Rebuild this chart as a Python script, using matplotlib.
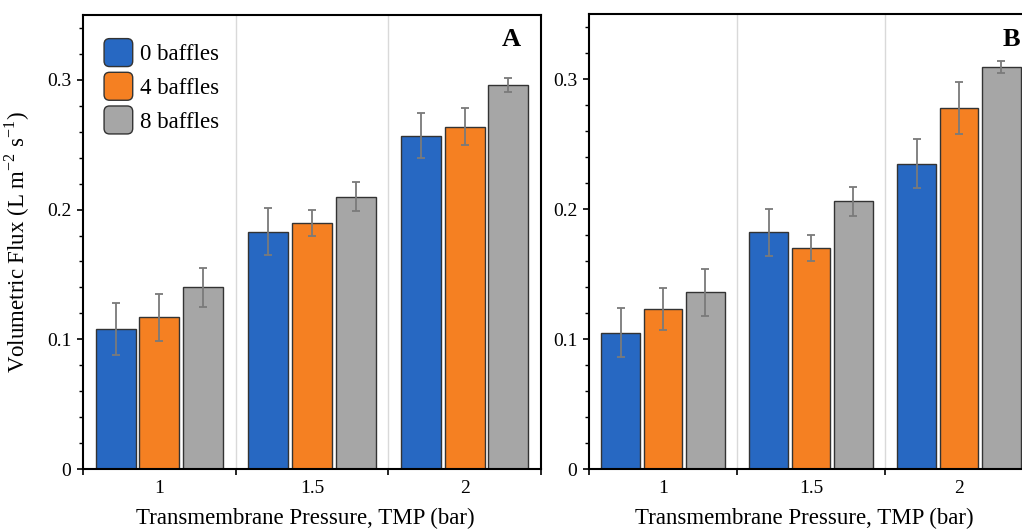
import numpy as np
import matplotlib
matplotlib.use('Agg')
import matplotlib.pyplot as plt
import matplotlib.patches as mpatches
from matplotlib.legend_handler import HandlerPatch
from matplotlib.ticker import MultipleLocator, FixedLocator

plt.rcParams['font.family'] = ['Liberation Serif', 'DejaVu Serif']
plt.rcParams['mathtext.fontset'] = 'custom'
plt.rcParams['mathtext.rm'] = 'Liberation Serif'

# data
tmp_labels = ['1', '1.5', '2']
series = ['0 baffles', '4 baffles', '8 baffles']
colors = ['#2768c2', '#f58022', '#a6a6a6']

a_flux_0 = [0.108, 0.183, 0.257]
a_flux_4 = [0.117, 0.190, 0.264]
a_flux_8 = [0.140, 0.210, 0.296]
a_err_0 = [0.020, 0.018, 0.0175]
a_err_4 = [0.018, 0.010, 0.014]
a_err_8 = [0.015, 0.011, 0.0055]

b_flux_0 = [0.105, 0.182, 0.235]
b_flux_4 = [0.123, 0.170, 0.278]
b_flux_8 = [0.136, 0.206, 0.309]
b_err_0 = [0.019, 0.018, 0.019]
b_err_4 = [0.016, 0.010, 0.020]
b_err_8 = [0.018, 0.011, 0.0045]

W, H = 1022, 532
fig = plt.figure(figsize=(W / 100, H / 100), dpi=100)

# axes boxes from pixel positions in the reference
axA = fig.add_axes([83 / W, (H - 469) / H, 458 / W, 454 / H])
axB = fig.add_axes([589 / W, (H - 469) / H, 444 / W, 455 / H])


def rounded_patch(legend, orig_handle, xdescent, ydescent, width, height, fontsize):
    return mpatches.FancyBboxPatch((-xdescent, -ydescent), width, height,
                                   boxstyle='round,pad=0,rounding_size=4')


def draw_panel(ax, fluxes, errs, letter, letter_x):
    x = np.arange(len(tmp_labels))
    offsets = [-0.287, 0.0, 0.287]
    for vals, err, off, col, name in zip(fluxes, errs, offsets, colors, series):
        ax.bar(x + off, vals, width=0.262, color=col, edgecolor='#333333',
               linewidth=1.0, label=name, zorder=2,
               yerr=err, error_kw=dict(ecolor='#7a7a7a', elinewidth=1.3,
                                       capsize=2.8, capthick=1.3, zorder=3))
    for b in [0.5, 1.5]:
        ax.axvline(b, color='#d9d9d9', lw=1.0, zorder=0)

    ax.set_xlim(-0.5, 2.5)
    ax.set_ylim(0, 0.35)
    ax.set_xticks(x)
    ax.set_xticklabels(tmp_labels)
    ax.xaxis.set_minor_locator(FixedLocator([-0.5, 0.5, 1.5, 2.5]))
    ax.tick_params(axis='x', which='major', length=0, pad=8, labelsize=14)
    ax.tick_params(axis='x', which='minor', length=4.5, width=1.2, direction='out')

    ax.yaxis.set_minor_locator(MultipleLocator(0.02))
    ax.set_yticks([0, 0.1, 0.2, 0.3])
    ax.set_yticklabels(['0', '0.1', '0.2', '0.3'])
    ax.tick_params(axis='y', which='major', length=4.5, width=1.2, pad=4, labelsize=14)
    ax.tick_params(axis='y', which='minor', length=3, width=1.0)

    for s in ax.spines.values():
        s.set_linewidth(1.5)
        s.set_color('black')

    ax.set_xlabel('Transmembrane Pressure, TMP (bar)', fontsize=16.5)
    ax.xaxis.set_label_coords(0.486, -0.085)
    ax.text(letter_x, 0.945, letter, transform=ax.transAxes, fontsize=19,
            fontweight='bold', ha='left', va='center')


draw_panel(axA, [a_flux_0, a_flux_4, a_flux_8], [a_err_0, a_err_4, a_err_8], 'A', 0.915)
draw_panel(axB, [b_flux_0, b_flux_4, b_flux_8], [b_err_0, b_err_4, b_err_8], 'B', 0.932)

axA.set_ylabel(r'Volumetric Flux (L m$^{\mathregular{-2}}$ s$^{\mathregular{-1}}$)', fontsize=16.5)
axA.yaxis.set_label_coords(-0.112, 0.5)

handles = [mpatches.Patch(facecolor=c, edgecolor='#333333', linewidth=1.0) for c in colors]
axA.legend(handles, series, loc='upper left', bbox_to_anchor=(0.046, 0.948),
           frameon=False, fontsize=16.5, borderpad=0, borderaxespad=0,
           handlelength=1.25, handleheight=1.5, handletextpad=0.3,
           labelspacing=0.25,
           handler_map={mpatches.Patch: HandlerPatch(patch_func=rounded_patch)})

fig.savefig('out.png', dpi=100)
